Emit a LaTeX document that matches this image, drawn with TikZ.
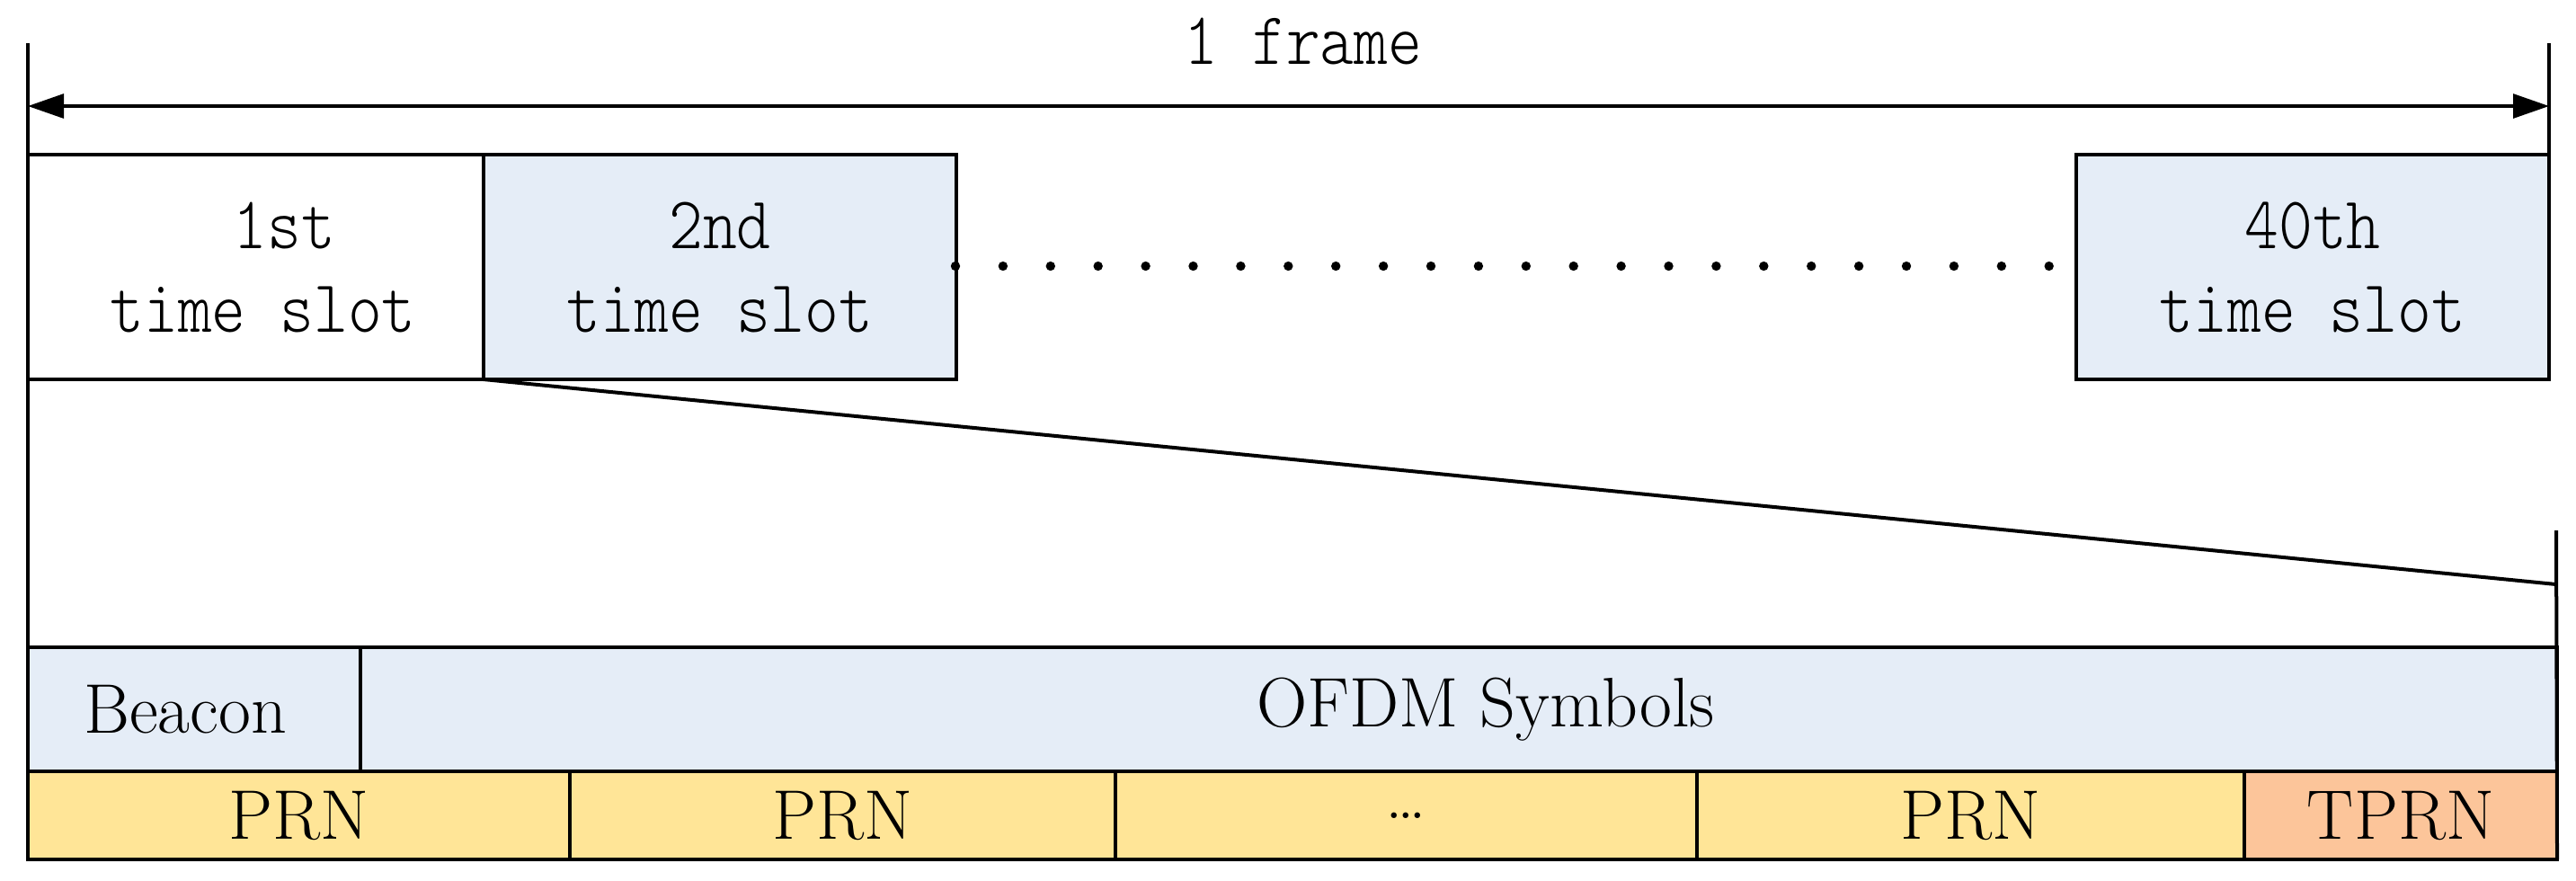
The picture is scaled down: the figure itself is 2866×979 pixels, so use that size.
\documentclass[tikz,border=0pt]{standalone}
\usepackage{graphicx}
\usetikzlibrary{arrows.meta}
\definecolor{slotblue}{HTML}{E5EDF7}
\definecolor{prnyellow}{HTML}{FFE597}
\definecolor{tprnorange}{HTML}{FCC59A}
\newcommand{\tallmono}[1]{\scalebox{1}[1.15]{#1}}
\newcommand{\lightmono}{\ttfamily\fontseries{l}\selectfont}
\begin{document}
\begin{tikzpicture}[x=0.25pt,y=-0.25pt,
  frameline/.style={line width=1pt},
  slotbox/.style={draw, line width=1pt, anchor=north west, inner sep=0pt, outer sep=0pt,
    align=center, minimum height=250*0.25pt, font=\fontsize{18}{23.25}\selectfont\lightmono},
  rowcell/.style={draw, line width=1pt, anchor=north west, inner sep=0pt, outer sep=0pt,
    font=\fontsize{19.5}{23}\selectfont},
  toprow/.style={rowcell, fill=slotblue, minimum height=138*0.25pt},
  prncell/.style={rowcell, fill=prnyellow, minimum height=98*0.25pt},
  dimarrow/.style={line width=0.9pt, {Triangle[length=10pt,width=6.7pt]}-{Triangle[length=10pt,width=6.7pt]}},
  dotmark/.style={fill=black}
]
\useasboundingbox (0,0) rectangle (2866,979);

% frame dimension
\coordinate (ftl) at (31,48);
\coordinate (fbl) at (31,956);
\coordinate (ftr) at (2836,48);
\coordinate (al) at (31,118);
\coordinate (ar) at (2836,118);
\node[font=\fontsize{18}{22}\selectfont\lightmono, anchor=base, inner sep=0pt] (frame) at (1450,71) {\tallmono{1 frame}};

% time slots
\node[slotbox, fill=white, minimum width=507*0.25pt] (s1) at (31,172) {\tallmono{\hspace*{16pt}1st}\\\tallmono{\hspace*{4pt}time slot}};
\node[slotbox, fill=slotblue, minimum width=526*0.25pt] (s2) at (538,172) {\tallmono{2nd}\\\tallmono{time slot}};
\node[slotbox, fill=slotblue, minimum width=526*0.25pt] (s40) at (2310,172) {\tallmono{40th}\\\tallmono{time slot}};

\foreach \i in {0,...,23} \fill[dotmark] (1063+\i*52.9,296) circle[radius=1.3pt];

% slot expansion
\coordinate (rtop2) at (2844,590);
\coordinate (slantend) at (2844,650);

% bottom rows
\node[toprow, minimum width=370*0.25pt] (beacon) at (31,720) {\hspace*{-5pt}Beacon};
\node[toprow, minimum width=2444*0.25pt] (ofdm) at (401,720) {\hspace*{15pt}OFDM Symbols};
\node[prncell, minimum width=603*0.25pt] (p1) at (31,858) {PRN};
\node[prncell, minimum width=607*0.25pt] (p2) at (634,858) {PRN};
\node[prncell, minimum width=647*0.25pt] (p3) at (1241,858) {\ldots};
\node[prncell, minimum width=609*0.25pt] (p4) at (1888,858) {PRN};
\node[rowcell, fill=tprnorange, minimum height=98*0.25pt, minimum width=348*0.25pt] (tp) at (2497,858) {TPRN};

% lines
\draw[frameline] (ftl) -- (fbl);
\draw[frameline] (ftr) -- (s40.north east);
\draw[dimarrow] (al) -- (ar);
\draw[frameline] (s1.south east) -- (slantend);
\draw[frameline] (rtop2) -- (tp.south east);
\end{tikzpicture}
\end{document}
